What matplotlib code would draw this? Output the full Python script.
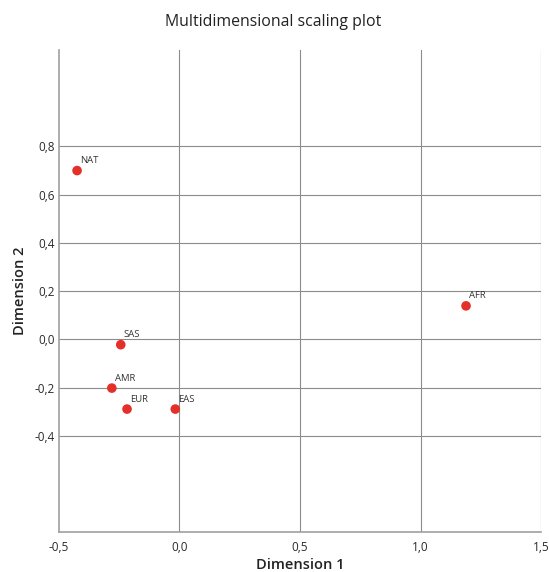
import matplotlib
matplotlib.use("Agg")
import matplotlib.pyplot as plt

# ─── DATA ─────────────────────────────────────────────────────────────────────
LABELS = ["NAT", "AFR", "SAS", "AMR", "EUR", "EAS"]
DIM1 = [-0.424, 1.188, -0.243, -0.280, -0.217, -0.017]
DIM2 = [0.700, 0.139, -0.022, -0.202, -0.289, -0.289]
X_TICKS = [-0.5, 0.0, 0.5, 1.0, 1.5]
Y_TICKS = [-0.4, -0.2, 0.0, 0.2, 0.4, 0.6, 0.8]
# ──────────────────────────────────────────────────────────────────────────────

plt.rcParams["font.family"] = ["Open Sans", "DejaVu Sans"]

fig = plt.figure(figsize=(5.49, 5.72), dpi=100)
ax = fig.add_axes([0.107, 0.0694, 0.879, 0.8432])

grid_col = "#8c8c8c"
for x in X_TICKS[1:]:
    ax.axvline(x, color=grid_col, linewidth=0.8, zorder=1)
for y in Y_TICKS:
    ax.axhline(y, color=grid_col, linewidth=0.8, zorder=1)

ax.scatter(DIM1, DIM2, s=48, color="#e3312a", edgecolors="none", zorder=3)
for lab, x, y in zip(LABELS, DIM1, DIM2):
    ax.annotate(lab, (x, y), xytext=(2, 4), textcoords="offset points",
                fontsize=6.8, color="#333333", va="bottom", ha="left")

ax.set_xlim(-0.5, 1.5)
ax.set_ylim(-0.8, 1.2)
ax.set_xticks(X_TICKS)
ax.set_yticks(Y_TICKS)
ax.set_xticklabels([f"{v:.1f}".replace(".", ",") for v in X_TICKS])
ax.set_yticklabels([f"{v:.1f}".replace(".", ",") for v in Y_TICKS])
ax.tick_params(axis="x", length=0, labelsize=8.5, colors="#2a2a2a", pad=6)
ax.tick_params(axis="y", length=0, labelsize=8.5, colors="#2a2a2a", pad=3)

for side in ["top", "right"]:
    ax.spines[side].set_visible(False)
for side in ["left", "bottom"]:
    ax.spines[side].set_color("#a0a0a0")
    ax.spines[side].set_linewidth(1.2)

ax.set_xlabel("Dimension 1", fontsize=10.5, fontweight="semibold",
              color="#222222", labelpad=3)
ax.set_ylabel("Dimension 2", fontsize=10.5, fontweight="semibold",
              color="#222222", labelpad=5)
fig.suptitle("Multidimensional scaling plot", x=0.497, y=0.975, fontsize=11.4,
             color="#222222")

plt.savefig("out.png", dpi=100)
